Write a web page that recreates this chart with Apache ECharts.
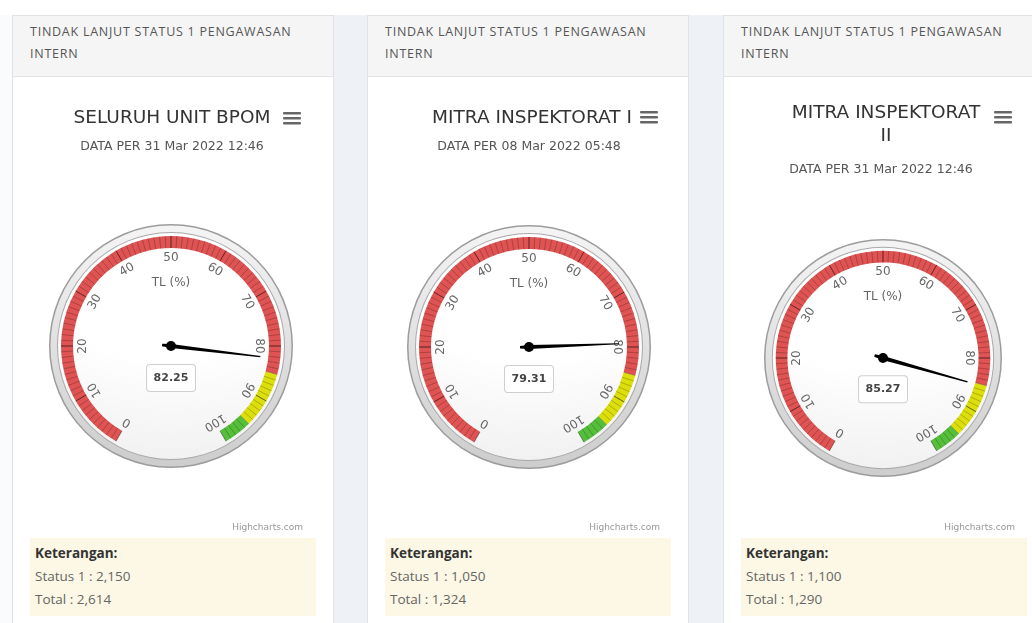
<!DOCTYPE html>
<html>
<head>
<meta charset="utf-8">
<script src="https://cdn.jsdelivr.net/npm/echarts@6/dist/echarts.min.js"></script>
<style>
  html, body { margin: 0; padding: 0; }
  body { width: 1032px; height: 623px; overflow: hidden; position: relative; background: #fff; font-family: "Open Sans", "Noto Sans", sans-serif; }
  #bg { position: absolute; left: 0; top: 15px; width: 1032px; height: 608px; background: #eef1f5; }
  #bg0 { position: absolute; left: 0; top: 15px; width: 12px; height: 608px; background: #fafbfc; }
  .panel { position: absolute; top: 15px; width: 322px; height: 640px; background: #fff; border: 1px solid #e2e2e2; box-sizing: border-box; }
  .phead { height: 61px; box-sizing: border-box; background: #f5f5f5; border-bottom: 1px solid #e4e4e4; padding: 5px 10px 0 17px; font-size: 12.5px; letter-spacing: 0.75px; line-height: 22px; color: #555; }
  .ket { position: absolute; left: 17px; top: 522px; width: 286px; height: 78px; background: #fcf8e5; box-sizing: border-box; padding: 4px 5px; font-size: 13.5px; line-height: 23px; color: #666; }
  .ket b { color: #333; font-weight: bold; }
  #chart { position: absolute; left: 0; top: 0; width: 1032px; height: 623px; }
</style>
</head>
<body>
<div id="bg"></div>
<div id="bg0"></div>
<div id="panels"></div>
<div id="chart"></div>
<script>
// ---- data ----
const panelHeaders = [
  'TINDAK LANJUT STATUS 1 PENGAWASAN INTERN',
  'TINDAK LANJUT STATUS 1 PENGAWASAN INTERN',
  'TINDAK LANJUT STATUS 1 PENGAWASAN INTERN'
];
const chartTitles = ['SELURUH UNIT BPOM', 'MITRA INSPEKTORAT I', 'MITRA INSPEKTORAT\nII'];
const chartSubtitles = ['DATA PER 31 Mar 2022 12:46', 'DATA PER 08 Mar 2022 05:48', 'DATA PER 31 Mar 2022 12:46'];
const gaugeValues = [82.25, 79.31, 85.27];
const gaugeName = 'TL (%)';
const status1Counts = [2150, 1050, 1100];
const totalCounts = [2614, 1324, 1290];
const axisMin = 0;
const axisMax = 100;
const axisSplits = 10;
const bandEnds = [85, 95, 100];
const bandColors = ['#DF5353', '#DDDF0D', '#55BF3B'];
const creditText = 'Highcharts.com';
const noteLabel = 'Keterangan:';
const statusLabel = 'Status 1 : ';
const totalLabel = 'Total : ';

// ---- layout ----
const panelLeft = [12, 367, 723];
const gaugeCenters = [[171, 346], [529, 347], [883, 358]];
const gaugeR = [122, 122, 119];
const titleCenter = [[172, 118], [532, 118], [886, 124.5]];
const subCenter = [[172, 147], [529, 147], [881, 170]];
const menuPos = [[283, 112], [640, 111], [994, 111]];
const creditPos = [[303, 528], [660, 528], [1015, 528]];
const chartFont = '"DejaVu Sans"';

const fmt = n => n.toLocaleString('en-US');

// HTML chrome
const panelsEl = document.getElementById('panels');
panelLeft.forEach((x, i) => {
  const p = document.createElement('div');
  p.className = 'panel';
  p.style.left = x + 'px';
  p.innerHTML = '<div class="phead"></div><div class="ket"><b></b><div class="s"></div><div class="t"></div></div>';
  p.querySelector('.phead').textContent = panelHeaders[i];
  p.querySelector('.ket b').textContent = noteLabel;
  p.querySelector('.ket .s').textContent = statusLabel + fmt(status1Counts[i]);
  p.querySelector('.ket .t').textContent = totalLabel + fmt(totalCounts[i]);
  panelsEl.appendChild(p);
});

const chart = echarts.init(document.getElementById('chart'), null, { renderer: 'canvas' });

const series = [];
const graphic = [];
const bandStops = bandEnds.map((v, k) => [(v - axisMin) / (axisMax - axisMin), bandColors[k]]);

gaugeValues.forEach((val, i) => {
  const c = gaugeCenters[i];
  const R = gaugeR[i];
  const s = R / 122;
  const bgBase = { type: 'pie', silent: true, center: c, label: { show: false }, labelLine: { show: false },
    emphasis: { disabled: true }, animation: false, tooltip: { show: false } };
  series.push(Object.assign({}, bgBase, { radius: [0, R], z: 1,
    data: [{ value: 1, itemStyle: { color: '#9c9c9c' } }] }));
  series.push(Object.assign({}, bgBase, { radius: [0, R - 1.5], z: 1,
    data: [{ value: 1, itemStyle: { color: new echarts.graphic.LinearGradient(0, 0, 0, 1, [
      { offset: 0, color: '#f4f4f4' }, { offset: 1, color: '#cdcdcd' }]) } }] }));
  series.push(Object.assign({}, bgBase, { radius: [0, R - 8 * s], z: 1,
    data: [{ value: 1, itemStyle: { color: '#a8a8a8' } }] }));
  series.push(Object.assign({}, bgBase, { radius: [0, R - 9 * s], z: 1,
    data: [{ value: 1, itemStyle: { color: new echarts.graphic.RadialGradient(0.5, -0.4, 1.9, [
      { offset: 0.5, color: '#ffffff' }, { offset: 1, color: '#e2e2e2' }]) } }] }));

  const bw = 12 * s;
  series.push({
    type: 'gauge', z: 3, animation: false,
    center: c, radius: 110 * s,
    startAngle: 240, endAngle: -60,
    min: axisMin, max: axisMax, splitNumber: axisSplits,
    axisLine: { lineStyle: { width: bw, color: bandStops } },
    axisTick: { distance: -bw, length: bw, splitNumber: 10, lineStyle: { color: 'rgba(0,0,0,0.22)', width: 1 } },
    splitLine: { distance: -bw, length: bw, lineStyle: { color: 'rgba(0,0,0,0.22)', width: 1 } },
    axisLabel: { distance: 22 * s, rotate: 'tangential', color: '#666', fontSize: 12, fontFamily: chartFont },
    pointer: { icon: 'path://M-2,0 L-0.6,-90 L0.6,-90 L2,0 L1.3,9 L-1.3,9 Z', width: 4, length: 99 * s,
      offsetCenter: [0, 9 * s], itemStyle: { color: '#000' } },
    anchor: { show: true, showAbove: true, size: 10, itemStyle: { color: '#000' } },
    title: { offsetCenter: [0, -63 * s], fontSize: 12, color: '#666', fontFamily: chartFont },
    detail: { offsetCenter: [0, 32 * s], valueAnimation: false, formatter: v => v.toFixed(2),
      fontSize: 11, fontWeight: 'bold', color: '#444', fontFamily: chartFont,
      width: 48, height: 26, lineHeight: 26, align: 'center', padding: 0,
      backgroundColor: '#fff', borderColor: '#cfcfcf', borderWidth: 1, borderRadius: 3 },
    data: [{ value: val, name: gaugeName }]
  });

  graphic.push({ type: 'text', x: titleCenter[i][0], y: titleCenter[i][1], z: 10,
    style: { text: chartTitles[i], fill: '#333', font: '18.5px ' + chartFont, align: 'center', verticalAlign: 'middle', lineHeight: 23 } });
  graphic.push({ type: 'text', x: subCenter[i][0], y: subCenter[i][1], z: 10,
    style: { text: chartSubtitles[i], fill: '#555', font: '12.5px ' + chartFont, align: 'center', verticalAlign: 'middle' } });
  [0, 5, 10].forEach(dy => graphic.push({ type: 'rect', z: 10,
    shape: { x: menuPos[i][0], y: menuPos[i][1] + dy, width: 18, height: 2.6, r: 1 }, style: { fill: '#666' } }));
  graphic.push({ type: 'text', x: creditPos[i][0], y: creditPos[i][1], z: 10,
    style: { text: creditText, fill: '#999', font: '9px ' + chartFont, align: 'right', verticalAlign: 'middle' } });
});

chart.setOption({ animation: false, series: series, graphic: graphic });
</script>
</body>
</html>
